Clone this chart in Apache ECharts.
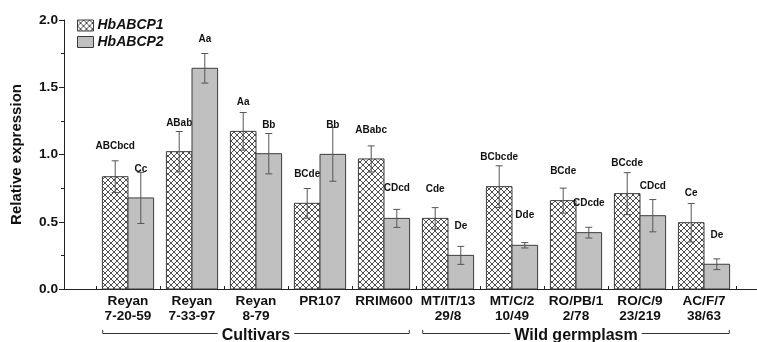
<!DOCTYPE html>
<html><head><meta charset="utf-8">
<script src="https://cdn.jsdelivr.net/npm/echarts@6/dist/echarts.min.js"></script>
<style>html,body{margin:0;padding:0;background:#fff}#c{width:757px;height:342px}</style>
</head><body><div id="c"></div>
<script>
const categories = ['Reyan\n7-20-59','Reyan\n7-33-97','Reyan\n8-79','PR107','RRIM600','MT/IT/13\n29/8','MT/C/2\n10/49','RO/PB/1\n2/78','RO/C/9\n23/219','AC/F/7\n38/63'];
const seriesNames = ['HbABCP1','HbABCP2'];
const p1 = [0.835,1.021,1.172,0.637,0.967,0.525,0.761,0.657,0.709,0.493];
const p1Err = [0.118,0.15,0.14,0.11,0.097,0.08,0.155,0.093,0.156,0.143];
const p2 = [0.677,1.641,1.006,1.001,0.525,0.250,0.325,0.419,0.545,0.184];
const p2Err = [0.19,0.11,0.15,0.2,0.067,0.067,0.02,0.04,0.12,0.04];
const p1Letters = ['ABCbcd','ABab','Aa','BCde','ABabc','Cde','BCbcde','BCde','BCcde','Ce'];
const p2Letters = ['Cc','Aa','Bb','Bb','CDcd','De','Dde','CDcde','CDcd','De'];
const p1LetterY = [1.058,1.236,1.388,0.855,1.182,0.743,0.981,0.877,0.932,0.711];
const p2LetterY = [0.890,1.857,1.219,1.219,0.746,0.468,0.545,0.637,0.766,0.401];
const groupNames = ['Cultivars','Wild germplasm'];
const groupFrom = [1,6];
const groupTo = [5,10];
const yTickValues = [0,0.5,1.0,1.5,2.0];

const FONT = '"Liberation Sans", Arial, sans-serif';

// crosshatch pattern
const pc = document.createElement('canvas');
pc.width = 6; pc.height = 6;
const g = pc.getContext('2d');
g.fillStyle = '#fff'; g.fillRect(0,0,6,6);
g.strokeStyle = '#3a3a3a'; g.lineWidth = 0.9;
g.beginPath();
g.moveTo(0,0); g.lineTo(6,6);
g.moveTo(6,0); g.lineTo(0,6);
g.moveTo(-3,3); g.lineTo(3,9);
g.moveTo(3,-3); g.lineTo(9,3);
g.moveTo(3,-3); g.lineTo(-3,3);
g.moveTo(9,3); g.lineTo(3,9);
g.stroke();
const hatch = {image: pc, repeat: 'repeat'};
const GRAY = '#c0c0c0';

function barSeries(idx, vals, errs, letters, letterY, fill) {
  const data = vals.map((v,i)=>[i+1, v, errs[i], letters[i], letterY[i]]);
  return {
    type: 'custom', name: seriesNames[idx], clip: false,
    itemStyle: {color: fill, borderColor: '#333'},
    data: data,
    renderItem: function(params, api){
      const x = api.value(0), v = api.value(1), e = api.value(2), ly = api.value(4);
      const letter = data[params.dataIndex][3];
      const x0 = idx === 0 ? x - 0.4 : x;
      const x1 = idx === 0 ? x : x + 0.4;
      const pL = api.coord([x0, v]), pR = api.coord([x1, 0]);
      const cx = (pL[0] + pR[0]) / 2;
      const top = api.coord([x, v + e])[1], bot = api.coord([x, v - e])[1];
      const lyPx = api.coord([x, ly])[1];
      return {type:'group', children:[
        {type:'rect', shape:{x:pL[0], y:pL[1], width:pR[0]-pL[0], height:pR[1]-pL[1]},
         style:{fill: fill, stroke:'#3c3c3c', lineWidth:1}},
        {type:'line', shape:{x1:cx, y1:top, x2:cx, y2:bot}, style:{stroke:'#555', lineWidth:1}},
        {type:'line', shape:{x1:cx-3.5, y1:top, x2:cx+3.5, y2:top}, style:{stroke:'#555', lineWidth:1}},
        {type:'line', shape:{x1:cx-3.5, y1:bot, x2:cx+3.5, y2:bot}, style:{stroke:'#555', lineWidth:1}},
        {type:'text', style:{text: letter, x: cx, y: lyPx, align:'center', verticalAlign:'middle',
          fill:'#111', font:'bold 10px ' + FONT}}
      ]};
    }
  };
}

const groupData = groupNames.map((n,i)=>[groupFrom[i], groupTo[i], n]);
const groupSeries = {
  type:'custom', name:'groups', clip:false, silent:true,
  data: groupData,
  renderItem: function(params, api){
    const a = api.value(0), b = api.value(1);
    const name = groupData[params.dataIndex][2];
    const xa = api.coord([a - 0.395, 0])[0], xb = api.coord([b + 0.395, 0])[0];
    const y0 = api.coord([a, 0])[1] + 44.5;
    return {type:'group', children:[
      {type:'polyline', shape:{points:[[xa,y0-3.5],[xa,y0],[xb,y0],[xb,y0-3.5]]}, style:{stroke:'#333', lineWidth:1, fill:null}},
      {type:'text', style:{text:name, x:(xa+xb)/2, y:y0+2, align:'center', verticalAlign:'middle',
        fill:'#111', font:'bold 16px ' + FONT, backgroundColor:'#fff', padding:[0,4]}}
    ]};
  }
};

const chart = echarts.init(document.getElementById('c'), null, {renderer:'canvas'});
chart.setOption({
  animation:false,
  backgroundColor:'#fff',
  grid:{left:64, right:0, top:20, bottom:53},
  legend:{
    orient:'vertical', left:77, top:18.5, padding:0, itemGap:2.5,
    itemWidth:16, itemHeight:11,
    textStyle:{fontFamily:FONT, fontSize:14, fontWeight:'bold', fontStyle:'italic', color:'#111', padding:[0,0,0,-1]},
    data:[
      {name:'HbABCP1', icon:'rect', itemStyle:{color:hatch, borderColor:'#3c3c3c', borderWidth:1}},
      {name:'HbABCP2', icon:'rect', itemStyle:{color:GRAY, borderColor:'#3c3c3c', borderWidth:1}}
    ]
  },
  xAxis:{
    type:'value', min:0, max:(757-64)/64,
    splitLine:{show:false},
    axisLine:{show:true, lineStyle:{color:'#222', width:1}},
    axisTick:{show:true, inside:true, length:3, lineStyle:{color:'#222'},
      customValues: categories.map((c,i)=>i+0.5).concat([categories.length+0.5])},
    axisLabel:{show:true, customValues: categories.map((c,i)=>i+1),
      formatter: v => categories[Math.round(v)-1] || '',
      fontFamily:FONT, fontSize:13.6, fontWeight:'bold', color:'#111', lineHeight:15, margin:5, verticalAlign:'top'}
  },
  yAxis:{
    type:'value', min:0, max:2, interval:0.5,
    name:'Relative expression', nameLocation:'middle', nameGap:40,
    nameTextStyle:{fontFamily:FONT, fontSize:15, fontWeight:'bold', color:'#111'},
    splitLine:{show:false},
    axisLine:{show:true, lineStyle:{color:'#222', width:1}},
    axisTick:{show:true, length:5, lineStyle:{color:'#222'}},
    minorTick:{show:true, splitNumber:2, length:3, lineStyle:{color:'#222'}},
    axisLabel:{fontFamily:FONT, fontSize:13.7, fontWeight:'bold', color:'#111', margin:6,
      customValues: yTickValues, formatter: v => v.toFixed(1)}
  },
  series:[
    barSeries(0, p1, p1Err, p1Letters, p1LetterY, hatch),
    barSeries(1, p2, p2Err, p2Letters, p2LetterY, GRAY),
    groupSeries
  ]
});
</script></body></html>
